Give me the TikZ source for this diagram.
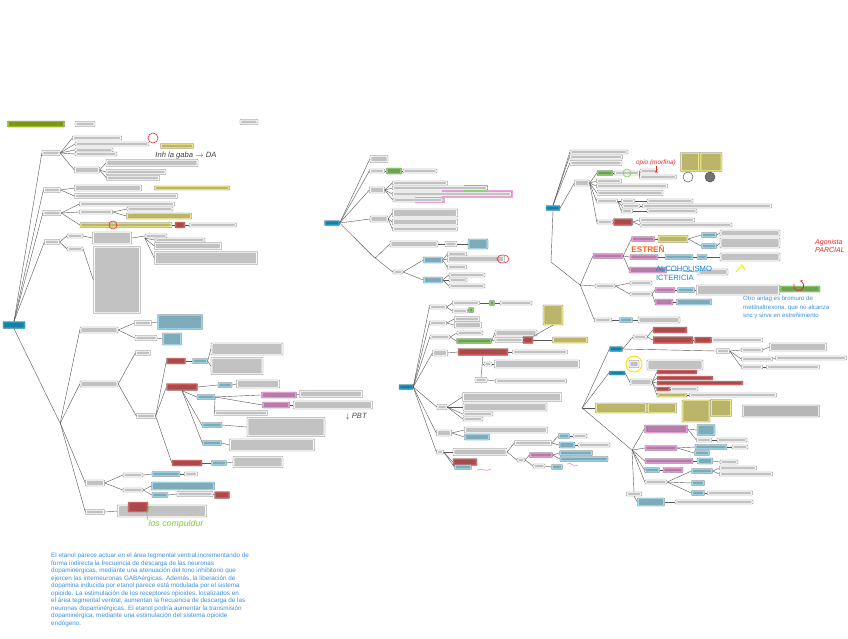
\documentclass[tikz,border=0pt]{standalone}
\usepackage{fontspec}
\setmainfont{Liberation Sans}
\usetikzlibrary{positioning, arrows.meta, shapes.geometric}

\definecolor{rootc}{HTML}{1FA8D6}
\definecolor{cy}{HTML}{A6E1F4}
\definecolor{rd}{HTML}{E06262}
\definecolor{yl}{HTML}{F5EE8C}
\definecolor{gn}{HTML}{8ED66A}
\definecolor{pk}{HTML}{EFA3E0}
\definecolor{ttl}{HTML}{A3C61E}
\definecolor{wh}{HTML}{FFFFFF}
\definecolor{parablue}{HTML}{3D8FE0}
\definecolor{penred}{HTML}{E8282B}
\definecolor{pengreen}{HTML}{7ACF3A}
\definecolor{penorange}{HTML}{F26522}

\tikzset{
  box/.style={draw=black!60, line width=0.3pt, rounded corners=0.6pt, inner sep=0pt,
    path picture={\fill[black, opacity=0.24]
      ([xshift=1.1pt,yshift=-1pt]path picture bounding box.north west) rectangle
      ([xshift=-1.1pt,yshift=1pt]path picture bounding box.south east);}},
  jn/.style={inner sep=0pt, minimum size=0pt},
  link/.style={draw=black!65, line width=0.35pt},
  pen/.style={inner sep=0pt, font=\itshape\fontsize{6.5}{7}\selectfont},
  para/.style={text=parablue, align=left, inner sep=0pt, anchor=north west}
}

\begin{document}
\begin{tikzpicture}[x=0.3mm, y=-0.3mm]
\useasboundingbox[fill=white] (0,0) rectangle (848,638);

% highlights behind boxes
\fill[pk] (442,190) rectangle (513,198);
\fill[pk] (415,197) rectangle (445,203);
\fill[gn] (464,185) rectangle (488,191);

% all boxes: name/x/y/width/height/colour
\foreach \nm/\x/\y/\w/\hh/\col in {
  rootA/14/325/22/7/rootc, titleA/36/124/57/6/ttl, hdrA/85/124/20/5/wh, hdrB/249/122/18/5/wh,
  a1/51/153/18/5/wh, a11/97/138/49/4/wh, a12/112/144/74/4/wh, a13/94/150/38/4/wh, a14/96/154/42/4/wh,
  a15/87/170/25/6/wh, a151/152/163/92/7/wh, a152/136/172/60/5/wh, a153/133/178/53/5/wh, noteA/177/146/33/5/yl,
  a2/52/190/17/5/wh, a21/108/188/67/6/wh, a22/126/196/103/5/wh, noteB/192/188/75/4/yl,
  a3/52/213/18/5/wh, a31/127/204/95/4/wh, a32/96/212/33/4/wh, a321/150/209/46/4/wh, a322/159/216/65/6/yl,
  a33/126/225/92/5/yl, a331/180/225/10/6/rd, a3311/213/225/47/4/wh,
  a4/52/242/15/5/wh, a41/75/236/16/4/wh, a411/112/238/39/12/wh, a4111/156/236/22/4/wh,
  a41111/180/240/50/4/wh, a41112/188/246/67/7/wh, a41113/206/258/103/13/wh, a42/75/249/16/4/wh, a421/117/280/47/67/wh,
  a5/99/330/38/6/wh, a51/143/323/17/5/wh, a511/180/322/45/15/cy, a52/146/338/22/5/wh, a521/172/339/19/12/cy,
  a6/99/384/38/6/wh, a61/143/353/15/5/wh, a62/146/416/19/5/wh,
  a621/176/361/19/6/rd, a6211/200/361/15/5/cy, a62111/247/349/72/12/wh, a62112/237/366/52/17/wh,
  a622/182/387/31/7/rd, a6221/225/385/14/5/cy, a62211/258/384/43/8/wh,
  a6222/206/397/18/5/cy, a62221/279/395/35/6/pk, a622211/331/394/63/7/wh, a62222/276/405/27/6/pk,
  a622221/333/405/79/8/wh, a62223/241/413/53/5/wh,
  a6223/212/425/20/5/cy, a62231/286/427/78/19/wh, a6224/212/443/19/5/cy, a62241/272/445/85/12/wh,
  a623/187/463/30/6/rd, a6231/219/463/15/5/cy, a62311/258/462/50/11/wh,
  a7/95/483/19/6/wh, a71/133/475/20/4/wh, a711/166/474/28/5/cy, a7111/191/474/13/4/wh,
  a72/133/490/20/4/wh, a721/183/486/63/8/cy, a722/160/495/16/5/cy, a7221/195/494/36/5/wh, a72211/222/495/15/7/rd,
  a8/95/512/19/5/wh, a81/162/511/89/12/wh, a811/138/507/20/10/rd,
  rootB/332/223/15/5/rootc,
  b1/379/159/18/7/wh, b2/377/171/15/4/wh, b21/394/171/15/6/gn, b211/420/171/34/4/wh,
  b3/377/190/15/6/wh, b31/420/183/55/4/wh, b32/440/188/95/4/wh, b33/452/194/119/4/wh, b34/418/200/50/4/wh,
  b4/379/219/18/6/wh, b41/425/213/65/8/wh, b42/425/222/65/6/wh, b43/425/229/65/4/wh,
  b5/414/244/48/6/wh, b51/451/244/12/5/wh, b511/478/244/20/10/cy,
  b6/398/272/10/4/wh, b61/433/260/19/6/cy, b611/457/254/19/4/wh, b612/476/259/57/6/wh, b613/457/267/19/4/wh,
  b62/433/280/19/6/cy, b621/467/275/36/4/wh, b622/458/280/18/4/wh, b623/467/286/36/4/wh,
  rootC/406/387/14/5/rootc,
  c1/438/307/17/4/wh, c11/466/303/27/4/wh, c111/492/303/5/5/gn, c1111/516/303/32/4/wh, c12/460/311/15/4/wh, c121/471/310/5/5/gn,
  c2/438/323/17/4/wh, c21/467/319/25/5/wh, c22/468/325/27/6/wh,
  c3/440/337/20/4/wh, c31/470/333/26/4/wh, c32/474/341/35/5/gn, c321/516/333/42/6/wh, c322/509/340/28/5/wh,
  c3221/528/340/10/7/rd, c32211/553/315/20/20/yl, c32212/570/340/35/6/yl,
  c4/440/353/15/6/wh, c41/483/352/50/7/rd, c411/540/352/55/4/wh, c42/488/364/8/4/wh, c421/537/364/85/8/wh,
  c43/481/380/12/5/wh, c431/531/381/71/4/wh,
  c5/442/407/10/5/wh, c51/512/397/99/9/wh, c52/505/407/84/8/wh, c53/478/414/30/4/wh, c54/473/419/20/4/wh,
  c6/444/433/15/6/wh, c61/506/430/83/6/wh, c62/477/437/25/6/cy,
  c7/440/452/7/4/wh, c71/480/452/54/7/wh, c72/465/462/24/7/rd, c73/463/467/17/5/cy,
  c711/533/443/37/5/wh, c7111/564/436/11/5/cy, c71111/580/436/14/4/wh, c7112/567/445/16/6/cy, c71121/594/445/32/4/wh,
  c712/521/460/8/4/wh, c7121/541/455/23/5/pk, c71211/576/453/33/5/cy, c71212/584/459/48/5/cy,
  c7122/539/466/12/4/wh, c71221/557/467/11/5/cy,
  rootD/553/208/14/5/rootc,
  d1/599/152/58/4/wh, d2/596/157/53/4/wh, d3/596/163/52/5/wh,
  d4/582/183/15/6/wh, d41/605/173/16/5/gn, d411/627/173/25/4/wh, d4111/649/171/18/4/wh, d4112/658/177/37/4/wh,
  d42/609/181/25/4/wh, d43/632/186/71/4/wh, d44/630/193/66/5/wh,
  d45/607/201/21/4/wh, d451/628/201/13/4/wh, d4511/670/201/46/4/wh, d452/631/206/18/4/wh, d4521/707/206/129/4/wh,
  d453/627/211/11/4/wh, d4531/672/211/50/4/wh,
  d46/605/222/16/4/wh, d461/623/222/19/7/rd, d4611/667/220/55/4/wh, d4612/686/225/92/4/wh,
  ydA/690/162/19/19/yl, ydB/711/162/22/19/yl,
  d5/608/256/30/5/pk, d51/643/239/23/5/pk, d511/673/239/30/7/yl, d5111/709/235/15/5/cy, d51111/750/233/60/6/wh,
  d5112/709/246/15/5/cy, d51121/750/243/60/10/wh,
  d52/644/257/28/5/pk, d521/679/257/28/5/cy, d5211/702/257/10/5/cy, d52111/750/257/60/8/wh,
  d53/648/270/37/6/pk, d531/713/272/30/6/wh,
  d6/605/286/20/4/wh, d61/641/283/22/4/wh, d62/641/294/22/4/wh, d621/665/290/20/5/pk, d6211/686/290/17/5/cy,
  d62111/738/290/83/10/wh, d621111/800/289/40/6/gn, d622/664/302/18/6/pk, d6221/694/302/35/6/cy,
  d7/603/320/17/4/wh, d71/626/320/13/5/cy, d711/659/320/42/6/wh,
  e1/616/349/13/5/rootc, e11/640/337/14/4/wh, e111/670/330/34/6/rd, e112/673/340/40/7/rd, e1121/703/340/17/6/rd,
  e11211/737/340/51/4/wh,
  e12/723/351/13/5/wh, e121/752/350/21/4/wh, e1211/798/347/57/8/wh, e122/757/359/31/4/wh, e1221/811/358/71/4/wh,
  e123/752/367/21/4/wh, e1231/793/367/53/4/wh,
  e2/617/373/16/4/rootc, e20/634/364/10/7/wh, e21/675/365/56/10/wh,
  e22/641/382/22/6/wh, e221/677/372/40/4/rd, e222/685/378/56/4/rd, e223/700/383/86/4/rd, e224/663/389/13/4/rd,
  e2241/684/389/28/4/wh, e225/672/395/30/4/yl, e2251/733/395/87/4/wh,
  yeA/621/408/51/10/yl, yeB/662/408/29/10/yl, yeC/696/411/28/22/yl, yeD/721/408/21/17/yl, geE/781/411/77/12/gray!12,
  f1/666/429/43/8/pk, f11/706/430/18/11/cy, f12/704/440/15/4/wh, f121/732/440/30/4/wh,
  f2/661/448/32/5/pk, f21/711/447/32/5/cy, f211/740/447/16/4/wh, f22/702/453/15/5/cy,
  f3/669/461/48/5/pk, f31/705/461/15/6/cy, f311/729/462/18/4/wh,
  f4/652/470/15/5/cy, f41/673/470/20/5/pk,
  f5/656/482/22/4/wh, f51/702/471/21/5/cy, f511/738/468/37/4/wh, f512/746/474/53/4/wh,
  f52/698/483/13/5/cy, f53/698/493/13/5/cy, f531/730/493/45/4/wh,
  f6/634/494/15/4/wh, f61/651/502/27/8/cy, f611/714/502/78/4/wh}
  \node[box, fill=\col, minimum width=\w*0.3mm, minimum height=\hh*0.3mm] (\nm) at (\x,\y) {};

% junctions
\node[jn] (jA) at (60,423) {};
\node[jn] (jB) at (375,258) {};
\node[jn] (bendD) at (551,262) {};
\node[jn] (jD1) at (580,285) {};
\node[jn] (jE) at (582,408) {};
\node[jn] (jE2) at (632,450) {};

% connectors
\foreach \p/\q in {
  a1/a11, a1/a12, a1/a13, a1/a14, a1/a15, a15/a151, a15/a152, a15/a153,
  a2/a21, a2/a22, a3/a31, a3/a32, a32/a321, a32/a322, a3/a33, a33/a331, a331/a3311,
  a4/a41, a4/a42, a41/a411, a411/a4111, a42/a421,
  jA/a5, jA/a6, jA/a7, jA/a8, a5/a51, a5/a52, a51/a511, a52/a521, a6/a61, a6/a62,
  a62/a621, a62/a622, a62/a623, a621/a6211, a6211/a62111, a6211/a62112, a622/a6221, a6221/a62211,
  a6222/a62221, a6222/a62222, a6222/a62223, a62221/a622211, a62222/a622221, a6223/a62231, a6224/a62241,
  a623/a6231, a6231/a62311,
  a7/a71, a7/a72, a71/a711, a711/a7111, a72/a721, a72/a722, a722/a7221, a7221/a72211, a8/a81,
  rootB/b1, rootB/b2, rootB/b3, rootB/b4, rootB/jB, b2/b21, b21/b211, b3/b31, b3/b32, b3/b33, b3/b34,
  b4/b41, b4/b42, b4/b43, jB/b5, jB/b6, b5/b51, b51/b511, b6/b61, b6/b62, b61/b611, b61/b612, b61/b613,
  b62/b621, b62/b622, b62/b623,
  rootC/c1, rootC/c2, rootC/c3, rootC/c4, rootC/c5, rootC/c6, rootC/c7,
  c1/c11, c11/c111, c111/c1111, c1/c12, c12/c121, c2/c21, c2/c22, c3/c31, c3/c32, c32/c321, c32/c322,
  c322/c3221, c3221/c32212, c4/c41, c41/c411, c42/c421, c43/c431, c5/c51, c5/c52, c5/c53, c5/c54,
  c6/c61, c6/c62, c7/c71, c7/c72, c7/c73, c71/c711, c711/c7111, c7111/c71111, c711/c7112, c7112/c71121,
  c71/c712, c712/c7121, c7121/c71211, c7121/c71212, c712/c7122, c7122/c71221,
  rootD/d4, d4/d41, d41/d411, d411/d4111, d411/d4112, d4/d42, d4/d43, d4/d44, d4/d45, d45/d451, d451/d4511,
  d45/d452, d452/d4521, d45/d453, d453/d4531, d4/d46, d46/d461, d461/d4611, d461/d4612,
  jD1/d5, jD1/d6, jD1/d7, d5/d51, d51/d511, d511/d5111, d5111/d51111, d511/d5112, d5112/d51121,
  d5/d52, d52/d521, d521/d5211, d5211/d52111, d5/d53, d53/d531, d6/d61, d6/d62, d62/d621, d621/d6211,
  d6211/d62111, d62111/d621111, d62/d622, d622/d6221, d7/d71, d71/d711,
  jE/e1, jE/e2, jE/yeA, jE/jE2, e1/e11, e11/e111, e11/e112, e112/e1121, e1121/e11211, e1/e12, e12/e121,
  e121/e1211, e12/e122, e122/e1221, e12/e123, e123/e1231, e2/e22, e22/e221, e22/e222, e22/e223, e22/e224,
  e224/e2241, e22/e225, e225/e2251,
  jE2/f1, jE2/f2, jE2/f3, jE2/f4, jE2/f5, f1/f11, f1/f12, f12/f121, f2/f21, f21/f211, f2/f22, f3/f31,
  f31/f311, f4/f41, f5/f51, f51/f511, f51/f512, f5/f52, f5/f53, f53/f531, f61/f611}
  \draw[link] (\p.east) -- (\q.west);

\foreach \q in {a1, a2, a3, a4}
  \draw[link] (rootA.north) -- (\q.west);
\draw[link] (rootA.south) -- (jA);
\foreach \q in {a41111, a41112, a41113}
  \draw[link] (a4111.south west) -- (\q.west);
\foreach \q in {a6222, a6223, a6224}
  \draw[link] (a622.south) -- (\q.west);
\foreach \q in {d1, d2, d3}
  \draw[link] (rootD.north) -- (\q.west);
\draw[link] (rootD.south) -- (bendD) -- (jD1);
\draw[link] (c41.south) -- (c43.north);
\draw[link] (c42.west) -- (c42.west -| c41.south);
\draw[link] (c3221.north east) -- (c32211.south);
\draw[link] (jE2) -- (f6.north);
\draw[link] (f6.south) -- (f61.west);

% marks and pen notes
\draw[penred, line width=0.5pt] (153,138) circle [radius=5];
\draw[penred, line width=0.5pt] (113,225) circle [radius=4];
\draw[penred, line width=0.5pt] (503,259) ellipse [x radius=6, y radius=4];
\draw[pengreen, line width=0.5pt] (627,173) circle [radius=4];
\draw[yellow!85!orange, line width=0.8pt] (634,364) circle [radius=8];
\draw[black!70, line width=0.4pt] (688,177) circle [radius=5];
\draw[black!70, fill=black!55, line width=0.4pt] (710,177) circle [radius=5];
\node[pen, text=black!75] (gaba) at (186,156) {Inh la gaba $\to$ DA};
\node[pen, text=black!70] (pbt) at (356,417) {$\downarrow$ PBT};
\node[pen, text=pengreen, font=\itshape\fontsize{7.5}{8}\selectfont] (compul) at (176,524) {los compuldur};
\draw[pengreen, line width=0.5pt] (151,506) .. controls (146,512) .. (148,520);
\node[pen, text=penred, font=\itshape\fontsize{5.5}{6}\selectfont] (opio) at (656,163) {opio (morfina)};
\draw[penred, line width=0.4pt, -{Stealth[length=2pt]}] (opio.south) -- ++(0,7);
\node[pen, text=penorange, font=\bfseries\fontsize{7}{7}\selectfont] (estr) at (648,249) {ESTREÑ};
\node[pen, text=cyan!70!blue, font=\fontsize{6.5}{7.5}\selectfont, align=left] (alco) at (684,273) {ALCOHOLISMO\\ICTERICIA};
\node[pen, text=penred, font=\itshape\fontsize{6}{7}\selectfont, align=left] (parc) at (830,246) {Agonista\\PARCIAL};
\draw[penred, line width=0.6pt, -{Stealth[length=2.5pt]}] (794,284) arc [start angle=200, end angle=-80, radius=5];
\draw[yellow!85!orange, line width=0.8pt] (736,272) -- (742,265) -- (745,270);
\draw[pk!80!magenta, line width=0.5pt] (477,470) .. controls (482,467) and (486,473) .. (491,469);
\draw[pk!80!magenta, line width=0.5pt] (567,464) .. controls (571,461) and (574,469) .. (578,465);

% paragraphs
\node[para, font=\fontsize{5.4}{6.4}\selectfont] (txtL) at (51,553) {El etanol parece actuar en el área tegmental ventral,incrementando de\\
forma indirecta la frecuencia de descarga de las neuronas\\
dopaminérgicas, mediante una atenuación del tono inhibitorio que\\
ejercen las interneuronas GABAérgicas. Además, la liberación de\\
dopamina inducida por etanol parece está modulada por el sistema\\
opioide. La estimulación de los receptores opioides, localizados en\\
el área tegmental ventral, aumentan la frecuencia de descarga de las\\
neuronas dopaminérgicas. El etanol podría aumentar la transmisión\\
dopaminérgica, mediante una estimulación del sistema opioide\\
endógeno.};
\node[para, font=\fontsize{5.2}{7.2}\selectfont] (txtR) at (743,296) {Otro antag es bromuro de\\
metilnaltrexona, que no alcanza\\
snc y sirve en estreñimiento};
\end{tikzpicture}
\end{document}
